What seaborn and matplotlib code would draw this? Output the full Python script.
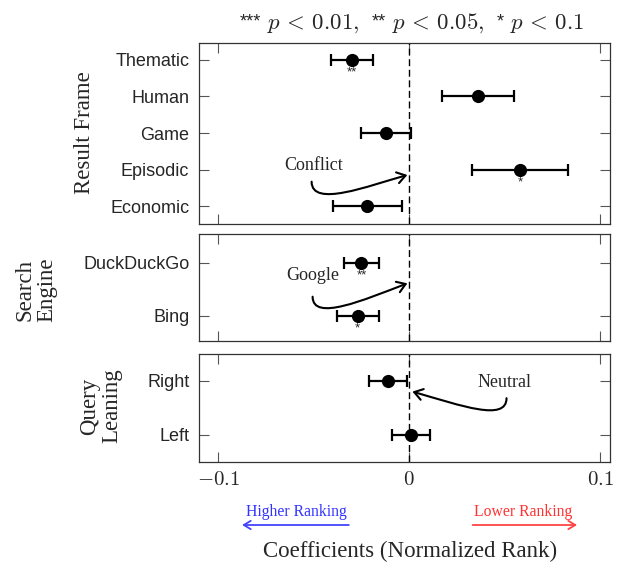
import numpy as np
import pandas as pd
import seaborn as sns
import matplotlib
matplotlib.use("Agg")
import matplotlib.pyplot as plt
from matplotlib.patches import FancyArrowPatch
from matplotlib.path import Path

# ---------------- data ----------------
frame_cats = ["Thematic", "Human", "Game", "Episodic", "Economic"]
frame_coef = [-0.030, 0.036, -0.012, 0.058, -0.022]
frame_lo = [-0.041, 0.017, -0.025, 0.033, -0.040]
frame_hi = [-0.019, 0.055, 0.001, 0.083, -0.004]
frame_sig = ["**", "", "", "*", ""]

engine_cats = ["DuckDuckGo", "Bing"]
engine_coef = [-0.025, -0.027]
engine_lo = [-0.034, -0.038]
engine_hi = [-0.016, -0.016]
engine_sig = ["**", "*"]

lean_cats = ["Right", "Left"]
lean_coef = [-0.011, 0.001]
lean_lo = [-0.021, -0.009]
lean_hi = [-0.001, 0.011]
lean_sig = ["", ""]

group_labels = ["Result Frame", "Search\nEngine", "Query\nLeaning"]
x_ticks = [-0.1, 0.0, 0.1]
x_ticklabels = [r"$-0.1$", r"$0$", r"$0.1$"]
title_stars = ["***", "**", "*"]
title_terms = [r"$p\,<\,0.01,$", r"$p\,<\,0.05,$", r"$p\,<\,0.1$"]
xlabel = "Coefficients (Normalized Rank)"

# ---------------- style ----------------
sns.set_style("ticks")
plt.rcParams["font.family"] = ["Liberation Sans", "DejaVu Sans"]
plt.rcParams["mathtext.fontset"] = "cm"
SERIF = ["Liberation Serif", "DejaVu Serif"]

W, H = 623, 566
fig = plt.figure(figsize=(W / 100, H / 100), dpi=100)

def px_axes(top, bottom, left=199, right=610):
    return fig.add_axes([left / W, 1 - bottom / H, (right - left) / W, (bottom - top) / H])

ax1 = px_axes(43, 224)
ax2 = px_axes(234, 341)
ax3 = px_axes(354, 462)

panels = [
    (ax1, frame_cats, frame_coef, frame_lo, frame_hi, frame_sig, (4.48, -0.46)),
    (ax2, engine_cats, engine_coef, engine_lo, engine_hi, engine_sig, (1.47, -0.54)),
    (ax3, lean_cats, lean_coef, lean_lo, lean_hi, lean_sig, (1.50, -0.49)),
]

for ax, cats, coef, lo, hi, sig, ylim in panels:
    df = pd.DataFrame({"cat": cats, "coef": coef, "lo": lo, "hi": hi, "sig": sig})
    df["pos"] = np.arange(len(df))
    ax.axvline(0, color="black", lw=1.0, ls=(0, (5, 2.6)), zorder=1)
    ax.errorbar(df["coef"], df["pos"],
                xerr=[df["coef"] - df["lo"], df["hi"] - df["coef"]],
                fmt="none", ecolor="black", elinewidth=1.6, capsize=4.5,
                capthick=1.6, zorder=2)
    sns.scatterplot(data=df, x="coef", y="pos", ax=ax, s=90, color="black",
                    edgecolor="black", linewidth=0, zorder=3, legend=False)
    for _, r in df.iterrows():
        if r["sig"]:
            ax.annotate(r["sig"], (r["coef"], r["pos"]), xytext=(0, -4.5),
                        textcoords="offset points", ha="center", va="top",
                        fontsize=9.5)
    ax.set_xlim(-0.1101, 0.1052)
    ax.set_ylim(*ylim)
    ax.set_yticks(df["pos"], cats, fontsize=13)
    ax.set_xticks(x_ticks)
    ax.set_xlabel("")
    ax.set_ylabel("")
    ax.tick_params(axis="both", direction="in", length=7, width=0.8,
                   color="#555555", top=True, right=True)
    ax.tick_params(axis="y", pad=7)
    for s in ax.spines.values():
        s.set_linewidth(0.9)
        s.set_color("#333333")

ax1.set_xticklabels([])
ax2.set_xticklabels([])
ax3.set_xticklabels(x_ticklabels, fontsize=15)
ax3.tick_params(axis="x", pad=6)

# group labels
fig.text(84 / W, 1 - 133 / H, group_labels[0], rotation=90, ha="center", va="center",
         family=SERIF, fontsize=16.5)
fig.text(36 / W, 1 - 290 / H, group_labels[1], rotation=90, ha="center", va="center",
         family=SERIF, fontsize=16.5, linespacing=1.05, multialignment="center")
fig.text(101 / W, 1 - 406 / H, group_labels[2], rotation=90, ha="center", va="center",
         family=SERIF, fontsize=16.5, linespacing=1.05, multialignment="center")

# title: sequential pieces (raised sans stars + math terms), centred at x=412 px
renderer = fig.canvas.get_renderer()
base_y = 28.7
items = []
for i, (st, term) in enumerate(zip(title_stars, title_terms)):
    t1 = fig.text(0, 1 - (base_y - 2.2) / H, st, ha="left", va="baseline",
                  fontsize=13, family="Liberation Sans")
    t2 = fig.text(0, 1 - base_y / H, term, ha="left", va="baseline", fontsize=16.5)
    items.append((t1, 6 if True else 0))
    items.append((t2, 12 if i < 2 else 0))
widths = [t.get_window_extent(renderer).width for t, _ in items]
total = sum(widths) + sum(g for _, g in items)
x = 412 - total / 2
for (t, gap), w in zip(items, widths):
    t.set_x(x / W)
    x += w + gap

fig.text(410 / W, 1 - 551 / H, xlabel, ha="center", va="center", family=SERIF, fontsize=16.5)

# curved annotation arrows (pixel anchored -> data)
def bez_arrow(ax, pts):
    path = Path(pts, [Path.MOVETO, Path.CURVE4, Path.CURVE4, Path.CURVE4])
    arr = FancyArrowPatch(path=path, arrowstyle="->,head_length=6,head_width=4",
                          color="black", lw=1.5, transform=ax.transData, zorder=4)
    ax.add_patch(arr)

def to_data(px, py, y0, dy):
    return ((px - 409.3) / 1910.0, (py - y0) / dy)

# Conflict
p = [to_data(*q, 60, 36.6) for q in [(311.7, 181.7), (311.7, 208), (368, 186), (407.5, 175)]]
bez_arrow(ax1, p)
tx, ty = to_data(314, 166, 60, 36.6)
ax1.text(tx, ty, "Conflict", ha="center", va="center", family=SERIF, fontsize=13)

# Google
p = [to_data(*q, 262.7, 53.3) for q in [(312.7, 296.7), (312.7, 322), (364, 300), (407.5, 283.3)]]
bez_arrow(ax2, p)
tx, ty = to_data(313, 275, 262.7, 53.3)
ax2.text(tx, ty, "Google", ha="center", va="center", family=SERIF, fontsize=13)

# Neutral
p = [to_data(*q, 380.7, 54.3) for q in [(506.7, 398.3), (506.7, 422), (462, 406), (412.5, 391.7)]]
bez_arrow(ax3, p)
tx, ty = to_data(505, 383, 380.7, 54.3)
ax3.text(tx, ty, "Neutral", ha="center", va="center", family=SERIF, fontsize=13)

# direction arrows below the axis
trans = ax3.get_xaxis_transform()
ya = (462 - 525) / 108.0
yt = (462 - 512) / 108.0
ax3.annotate("", xy=((239.3 - 409.3) / 1910, ya), xytext=((351.7 - 409.3) / 1910, ya),
             xycoords=trans, textcoords=trans, annotation_clip=False,
             arrowprops=dict(arrowstyle="->,head_length=0.5,head_width=0.3",
                             color="#4444ff", lw=1.3))
ax3.text((296.7 - 409.3) / 1910, yt, "Higher Ranking", transform=trans, ha="center",
         va="center", color="#3333ff", family=SERIF, fontsize=11.3)
ax3.annotate("", xy=((580 - 409.3) / 1910, ya), xytext=((470 - 409.3) / 1910, ya),
             xycoords=trans, textcoords=trans, annotation_clip=False,
             arrowprops=dict(arrowstyle="->,head_length=0.5,head_width=0.3",
                             color="#ff4444", lw=1.3))
ax3.text((523.3 - 409.3) / 1910, yt, "Lower Ranking", transform=trans, ha="center",
         va="center", color="#ff3333", family=SERIF, fontsize=11.3)

fig.savefig("out.png", dpi=100)
